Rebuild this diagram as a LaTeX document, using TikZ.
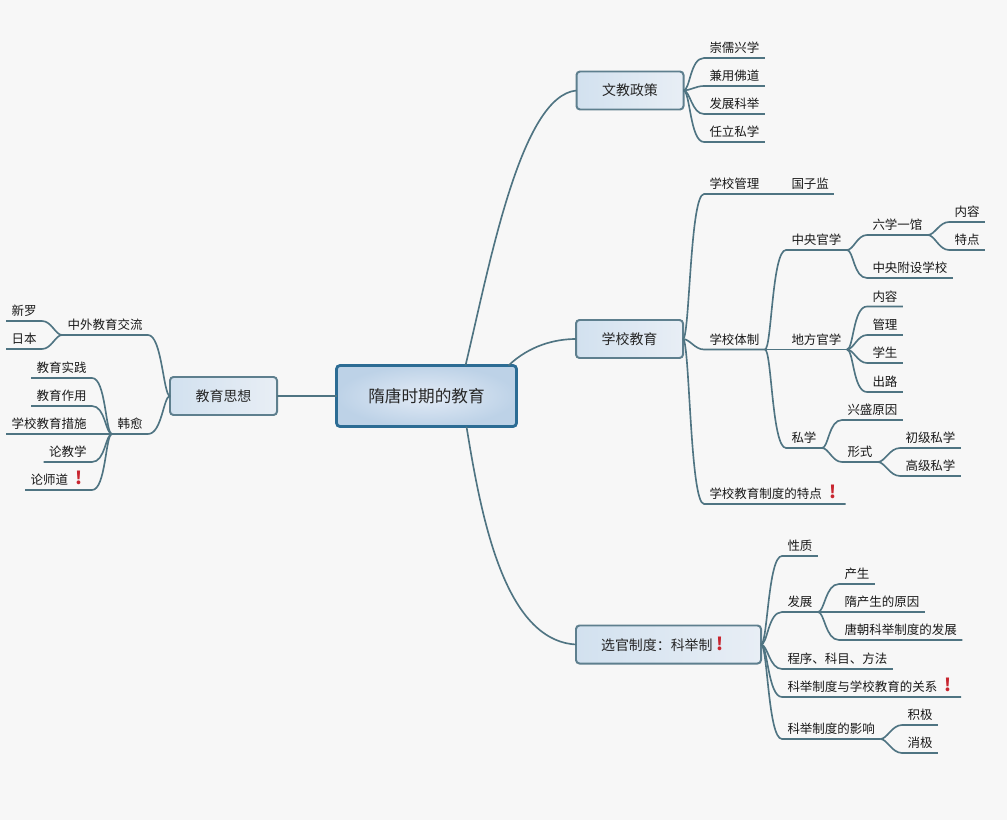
\documentclass[tikz,border=0pt]{standalone}
\usepackage{fontspec}
\setmainfont{Noto Sans CJK SC}
\usepackage{xcolor}
\usetikzlibrary{calc}
\definecolor{linecol}{HTML}{4F7482}
\definecolor{boxedge}{HTML}{5E7F8E}
\definecolor{rootedge}{HTML}{2C6C94}
\definecolor{warnred}{HTML}{C8252F}
\definecolor{boxleft}{HTML}{D2E1EF}
\definecolor{boxright}{HTML}{E8EEF5}
\definecolor{rootin}{HTML}{E3EBF6}
\definecolor{rootout}{HTML}{BDD2E7}
\newcommand{\warnmark}{\hspace{.1cm}\makebox[.45cm]{\textcolor{warnred}{\fontsize{15pt}{15pt}\selectfont\bfseries !}}}

\begin{document}
\begin{tikzpicture}[
  x=0.03cm, y=-0.03cm,
  box/.style={draw=boxedge, line width=1.7pt, rounded corners=3pt, left color=boxleft, right color=boxright, text=black!85, font=\fontsize{11.9pt}{14pt}\selectfont, inner sep=0pt, outer sep=0pt, minimum height=1.14cm},
  rootbox/.style={box, draw=rootedge, line width=2.4pt, inner color=rootin, outer color=rootout, minimum width=5.4cm, minimum height=1.83cm, font=\fontsize{14.2pt}{17pt}\selectfont},
  topic/.style={anchor=south west, font=\fontsize{10.66pt}{13pt}\selectfont, text=black!90, inner xsep=.165cm, inner ysep=.1cm, text height=.31cm, text depth=.06cm, outer sep=0pt},
  ltopic/.style={topic, anchor=south east},
  trunk/.style={draw=linecol, line width=1.4pt},
  branch/.style={trunk, out=0, in=180, out max distance=.2cm, in max distance=.42cm},
  lbranch/.style={trunk, out=180, in=0, out max distance=.2cm, in max distance=.42cm},
]
\fill[black!3] (0,0) rectangle (1007,820);
\useasboundingbox (0,0) rectangle (1007,820);

% --- main boxes ---
\node[rootbox] (root) at (426.5,396) {隋唐时期的教育};
\node[box, minimum width=3.21cm] (policy) at (630,90.5) {文教政策};
\node[box, minimum width=3.21cm] (school) at (629.5,339) {学校教育};
\node[box, minimum width=5.55cm] (exam) at (668.5,644.5) {选官制度：科举制\hspace{-.1cm}\warnmark\hspace{.25cm}\mbox{}};
\node[box, minimum width=3.21cm] (thought) at (223.5,396) {教育思想};

\draw[trunk] (root.west) -- (thought.east);
\draw[trunk] ([xshift=-1.53cm]root.north east) .. controls +(24,-100) and +(-56,5) .. (policy.west);
\draw[trunk] ([xshift=-.24cm]root.north east) .. controls +(21,-20) and +(-21,0) .. (school.west);
\draw[trunk] ([xshift=-1.5cm]root.south east) .. controls +(15,93) and +(-71,-4) .. (exam.west);

% --- policy ---
\node[topic] (chong) at (704,58) {崇儒兴学};
\node[topic] (jian) at (704,86) {兼用佛道};
\node[topic] (keju) at (704,114) {发展科举};
\node[topic] (renli) at (704,142) {任立私学};
\foreach \n in {chong,jian,keju,renli}
  \draw[branch] (policy.east) to (\n.south west) -- (\n.south east);

% --- school ---
\node[topic] (manage) at (704,194) {学校管理};
\node[topic] (guozi) at (786,194) {国子监};
\node[topic] (system) at (704,349.5) {学校体制};
\node[topic] (feature) at (704,504) {学校教育制度的特点\warnmark};
\foreach \n in {manage,system,feature}
  \draw[branch] (school.east) to (\n.south west) -- (\n.south east);
\draw[trunk] (manage.south east) -- (guozi.south east);

\node[topic] (central) at (786,250) {中央官学};
\node[topic] (local) at (786,349.5) {地方官学};
\node[topic] (private) at (786,448) {私学};
\foreach \n in {central,local,private}
  \draw[branch] (system.south east) to (\n.south west) -- (\n.south east);

\node[topic] (sixue) at (867,235) {六学一馆};
\node[topic] (fushe) at (867,278) {中央附设学校};
\foreach \n in {sixue,fushe}
  \draw[branch] (central.south east) to (\n.south west) -- (\n.south east);
\node[topic] (neirong) at (949,222) {内容};
\node[topic] (tedian) at (949,250) {特点};
\foreach \n in {neirong,tedian}
  \draw[branch] (sixue.south east) to (\n.south west) -- (\n.south east);

\node[topic] (lneirong) at (867,306.5) {内容};
\node[topic] (guanli) at (867,335) {管理};
\node[topic] (xuesheng) at (867,363) {学生};
\node[topic] (chulu) at (867,392) {出路};
\foreach \n in {lneirong,guanli,xuesheng,chulu}
  \draw[branch] (local.south east) to (\n.south west) -- (\n.south east);

\node[topic] (xingsheng) at (842,420) {兴盛原因};
\node[topic] (xingshi) at (842,462) {形式};
\foreach \n in {xingsheng,xingshi}
  \draw[branch] (private.south east) to (\n.south west) -- (\n.south east);
\node[topic] (chuji) at (900,448) {初级私学};
\node[topic] (gaoji) at (900,476) {高级私学};
\foreach \n in {chuji,gaoji}
  \draw[branch] (xingshi.south east) to (\n.south west) -- (\n.south east);

% --- exam ---
\node[topic] (xingzhi) at (782,556) {性质};
\node[topic] (fazhan) at (782,612) {发展};
\node[topic] (chengxu) at (782,669) {程序、科目、方法};
\node[topic] (guanxi) at (782,697) {科举制度与学校教育的关系\warnmark};
\node[topic] (yingxiang) at (782,739) {科举制度的影响};
\foreach \n in {xingzhi,fazhan,chengxu,guanxi,yingxiang}
  \draw[branch] (exam.east) to (\n.south west) -- (\n.south east);

\node[topic] (chansheng) at (839,584) {产生};
\node[topic] (yuanyin) at (839,612) {隋产生的原因};
\node[topic] (tangchao) at (839,640) {唐朝科举制度的发展};
\foreach \n in {chansheng,yuanyin,tangchao}
  \draw[branch] (fazhan.south east) to (\n.south west) -- (\n.south east);
\node[topic] (jiji) at (902,725) {积极};
\node[topic] (xiaoji) at (902,753) {消极};
\foreach \n in {jiji,xiaoji}
  \draw[branch] (yingxiang.south east) to (\n.south west) -- (\n.south east);

% --- thought ---
\node[ltopic] (jiaoliu) at (148,335) {中外教育交流};
\node[ltopic] (hanyu) at (148,434) {韩愈};
\foreach \n in {jiaoliu,hanyu}
  \draw[lbranch] (thought.west) to (\n.south east) -- (\n.south west);
\node[ltopic] (xinluo) at (42,321) {新罗};
\node[ltopic] (riben) at (42,349) {日本};
\foreach \n in {xinluo,riben}
  \draw[lbranch] (jiaoliu.south west) to (\n.south east) -- (\n.south west);
\node[ltopic] (shijian) at (92,378) {教育实践};
\node[ltopic] (zuoyong) at (92,406) {教育作用};
\node[ltopic] (cuoshi) at (92,434) {学校教育措施};
\node[ltopic] (lunjiao) at (92,462) {论教学};
\node[ltopic] (lunshi) at (92,490) {论师道\warnmark};
\foreach \n in {shijian,zuoyong,cuoshi,lunjiao,lunshi}
  \draw[lbranch] (hanyu.south west) to (\n.south east) -- (\n.south west);
\end{tikzpicture}
\end{document}
